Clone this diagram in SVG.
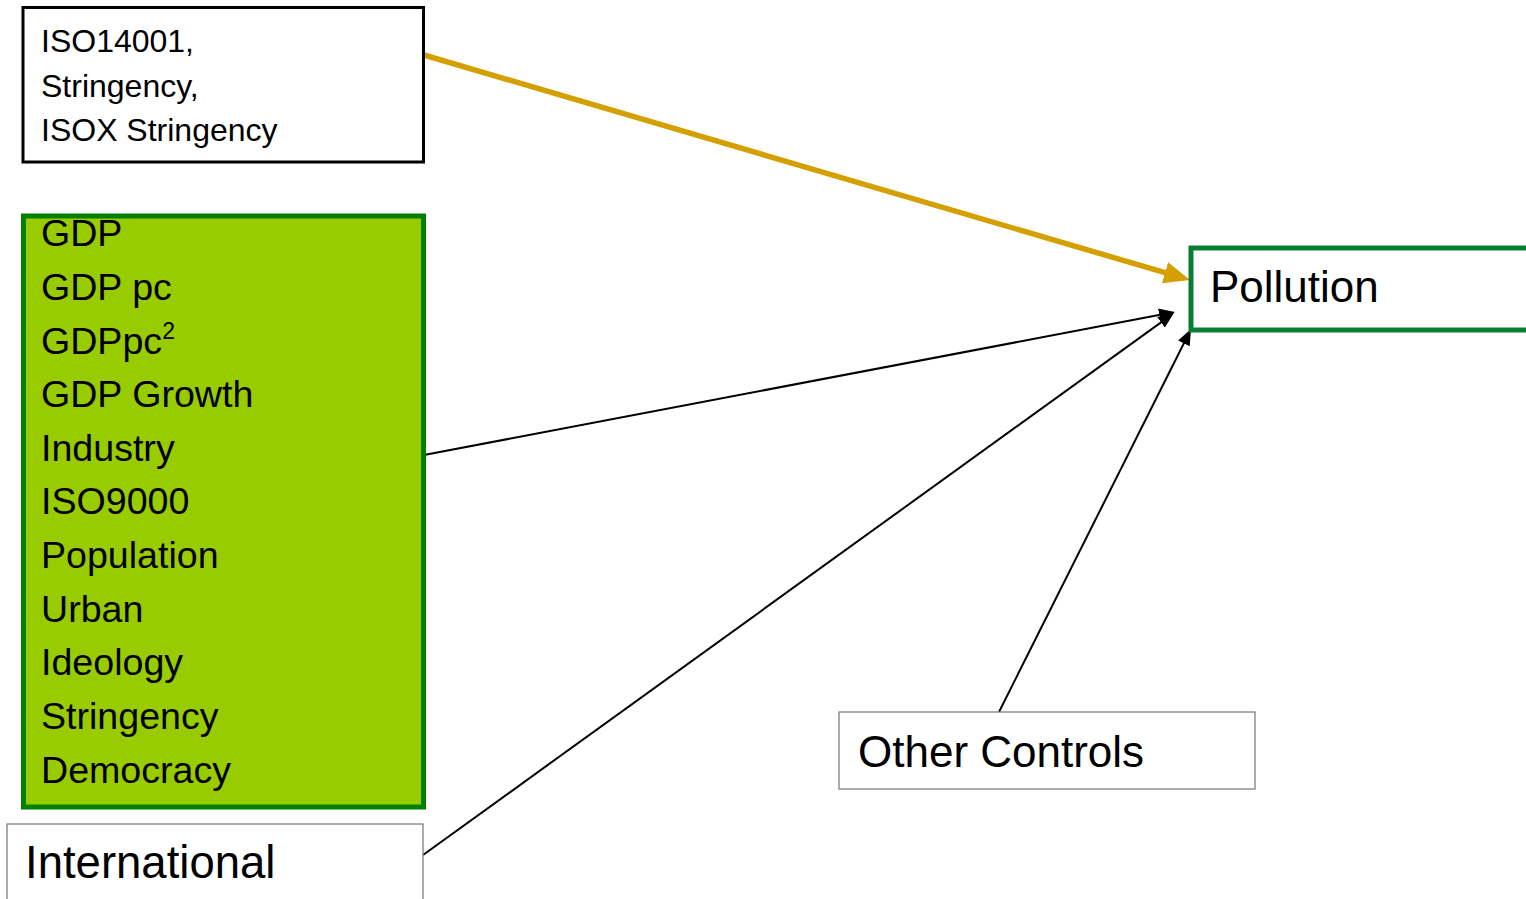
<svg xmlns="http://www.w3.org/2000/svg" width="1526" height="899" viewBox="0 0 1526 899">
  <defs>
    <style>
      text { font-family: "Liberation Sans", Arial, sans-serif; fill: #000; }
      .thin { fill: #fff; stroke: #7f7f7f; stroke-width: 1.3; }
      .conn { fill: none; stroke: #000; stroke-width: 2; }
      .gold { fill: none; stroke: #D4A000; stroke-width: 5.5; }
    </style>
    <marker id="arrowBlack" markerUnits="userSpaceOnUse" markerWidth="16" markerHeight="13" viewBox="0 0 16 13" refX="9" refY="6.5" orient="auto">
      <path d="M0,0 L16,6.5 L0,13 z" fill="#000"/>
    </marker>
    <marker id="arrowGold" markerUnits="userSpaceOnUse" markerWidth="26" markerHeight="22" viewBox="0 0 26 22" refX="16" refY="11" orient="auto">
      <path d="M0,0 L26,11 L0,22 z" fill="#D4A000"/>
    </marker>
  </defs>

  <rect width="1526" height="899" fill="#fff"/>

  <!-- connectors -->
  <g id="connectors">
    <path class="gold" d="M424,55 L1180.4,277.2" marker-end="url(#arrowGold)"/>
    <path class="conn" d="M424,455 L1168.1,313.3" marker-end="url(#arrowBlack)"/>
    <path class="conn" d="M423,855 L1168.3,317.1" marker-end="url(#arrowBlack)"/>
    <path class="conn" d="M999,712 L1187.9,335.3" marker-end="url(#arrowBlack)"/>
  </g>

  <!-- certification / stringency variables -->
  <g id="node-iso">
    <rect x="23" y="7.5" width="400.5" height="154.5" fill="#fff" stroke="#000" stroke-width="3"/>
    <text x="41" y="52" font-size="32">ISO14001,</text>
    <text x="41" y="97" font-size="32">Stringency,</text>
    <text x="41" y="141" font-size="32">ISOX Stringency</text>
  </g>

  <!-- economic and political controls -->
  <g id="node-controls-list">
    <rect x="23.5" y="216" width="400" height="591" fill="#99CC00" stroke="#008000" stroke-width="5"/>
    <g font-size="37.6">
      <text x="41" y="246">GDP</text>
      <text x="41" y="300">GDP pc</text>
      <text x="41" y="354">GDPpc<tspan font-size="23" dy="-15">2</tspan></text>
      <text x="41" y="407">GDP Growth</text>
      <text x="41" y="461">Industry</text>
      <text x="41" y="514">ISO9000</text>
      <text x="41" y="568">Population</text>
      <text x="41" y="622">Urban</text>
      <text x="41" y="675">Ideology</text>
      <text x="41" y="729">Stringency</text>
      <text x="41" y="783">Democracy</text>
    </g>
  </g>

  <!-- outcome -->
  <g id="node-pollution">
    <rect x="1191" y="248" width="345" height="82" fill="#fff" stroke="#0A7D35" stroke-width="5"/>
    <text x="1210" y="302" font-size="44">Pollution</text>
  </g>

  <g id="node-international">
    <rect class="thin" x="7" y="824" width="416" height="90"/>
    <text x="25" y="878" font-size="45.5">International</text>
  </g>

  <g id="node-other-controls">
    <rect class="thin" x="839" y="712" width="416" height="77"/>
    <text x="858" y="767" font-size="44">Other Controls</text>
  </g>
</svg>
